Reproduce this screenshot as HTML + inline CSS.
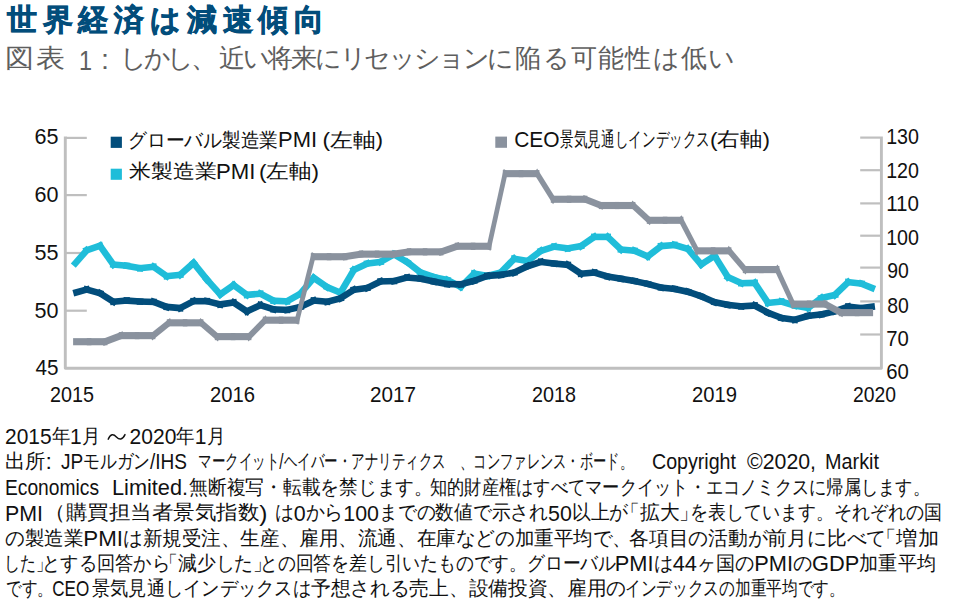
<!DOCTYPE html>
<html><head><meta charset="utf-8"><style>
html,body{margin:0;padding:0;background:#fff;}
svg{display:block;font-family:"Liberation Sans",sans-serif;}
</style></head><body>
<svg width="960" height="614" viewBox="0 0 960 614">
<rect width="960" height="614" fill="#fff"/>
<g stroke="#bfbfbf" fill="none">
<path d="M65.3,136.5 V368.2 H881.4 V136.4" stroke-width="2.9" stroke-linejoin="round"/>
<line x1="66" y1="137.9" x2="86.8" y2="137.9" stroke-width="2.2"/>
<line x1="66" y1="195.1" x2="86.8" y2="195.1" stroke-width="2.2"/>
<line x1="66" y1="253.0" x2="86.8" y2="253.0" stroke-width="2.2"/>
<line x1="66" y1="310.7" x2="86.8" y2="310.7" stroke-width="2.2"/>
<line x1="860.2" y1="137.6" x2="880" y2="137.6" stroke-width="2.2"/>
<line x1="860.2" y1="170.2" x2="880" y2="170.2" stroke-width="2.2"/>
<line x1="860.2" y1="203.4" x2="880" y2="203.4" stroke-width="2.2"/>
<line x1="860.2" y1="235.7" x2="880" y2="235.7" stroke-width="2.2"/>
<line x1="860.2" y1="267.6" x2="880" y2="267.6" stroke-width="2.2"/>
<line x1="860.2" y1="301.4" x2="880" y2="301.4" stroke-width="2.2"/>
<line x1="860.2" y1="334.5" x2="880" y2="334.5" stroke-width="2.2"/>
</g>
<g stroke="#1fbdd9" stroke-width="6.6" stroke-linecap="butt">
<line x1="73.30" y1="265.65" x2="88.83" y2="247.87"/>
<line x1="83.54" y1="251.43" x2="103.14" y2="244.68"/>
<line x1="98.11" y1="243.06" x2="115.29" y2="267.31"/>
<line x1="110.09" y1="264.33" x2="130.03" y2="266.05"/>
<line x1="123.49" y1="265.18" x2="143.35" y2="268.77"/>
<line x1="136.82" y1="268.52" x2="156.74" y2="266.46"/>
<line x1="150.76" y1="264.90" x2="169.52" y2="278.13"/>
<line x1="163.54" y1="276.57" x2="183.46" y2="274.51"/>
<line x1="177.71" y1="277.04" x2="196.01" y2="260.82"/>
<line x1="191.47" y1="260.44" x2="208.97" y2="282.13"/>
<line x1="204.69" y1="277.11" x2="222.47" y2="296.85"/>
<line x1="217.55" y1="296.29" x2="236.33" y2="283.20"/>
<line x1="230.96" y1="283.14" x2="249.64" y2="296.81"/>
<line x1="243.69" y1="295.14" x2="263.63" y2="293.43"/>
<line x1="257.42" y1="292.18" x2="276.62" y2="302.26"/>
<line x1="270.40" y1="300.58" x2="290.36" y2="301.44"/>
<line x1="284.19" y1="302.93" x2="303.29" y2="292.08"/>
<line x1="298.29" y1="296.23" x2="315.91" y2="275.44"/>
<line x1="311.06" y1="276.08" x2="329.86" y2="289.03"/>
<line x1="324.09" y1="285.89" x2="343.55" y2="293.94"/>
<line x1="338.83" y1="295.52" x2="355.53" y2="267.06"/>
<line x1="350.88" y1="271.32" x2="370.20" y2="262.17"/>
<line x1="363.95" y1="264.00" x2="383.85" y2="261.43"/>
<line x1="377.70" y1="263.47" x2="396.82" y2="252.77"/>
<line x1="391.09" y1="252.71" x2="410.15" y2="263.87"/>
<line x1="404.69" y1="260.18" x2="423.27" y2="274.57"/>
<line x1="417.54" y1="271.48" x2="437.14" y2="278.22"/>
<line x1="430.79" y1="276.46" x2="450.61" y2="280.72"/>
<line x1="444.45" y1="278.51" x2="463.67" y2="288.44"/>
<line x1="458.40" y1="289.26" x2="476.44" y2="271.25"/>
<line x1="470.85" y1="273.03" x2="490.71" y2="276.44"/>
<line x1="484.26" y1="276.68" x2="504.02" y2="271.75"/>
<line x1="498.52" y1="274.92" x2="516.48" y2="256.38"/>
<line x1="510.93" y1="258.19" x2="530.79" y2="261.61"/>
<line x1="524.92" y1="263.06" x2="543.52" y2="248.81"/>
<line x1="537.75" y1="251.79" x2="557.41" y2="245.70"/>
<line x1="550.99" y1="246.25" x2="570.89" y2="248.82"/>
<line x1="564.37" y1="248.96" x2="584.23" y2="245.54"/>
<line x1="578.26" y1="247.97" x2="597.06" y2="235.03"/>
<line x1="591.04" y1="236.90" x2="611.00" y2="236.90"/>
<line x1="605.30" y1="234.63" x2="623.46" y2="251.82"/>
<line x1="617.77" y1="249.27" x2="637.71" y2="250.98"/>
<line x1="631.39" y1="249.40" x2="650.81" y2="257.75"/>
<line x1="645.17" y1="258.47" x2="663.75" y2="244.08"/>
<line x1="657.85" y1="246.38" x2="677.79" y2="244.67"/>
<line x1="671.34" y1="244.00" x2="691.02" y2="249.93"/>
<line x1="685.71" y1="246.47" x2="703.37" y2="267.00"/>
<line x1="698.45" y1="266.29" x2="717.35" y2="254.09"/>
<line x1="712.83" y1="253.08" x2="729.69" y2="279.94"/>
<line x1="724.93" y1="275.80" x2="744.31" y2="284.48"/>
<line x1="738.00" y1="283.19" x2="757.96" y2="282.84"/>
<line x1="752.83" y1="280.16" x2="769.85" y2="305.65"/>
<line x1="764.74" y1="303.25" x2="784.66" y2="301.19"/>
<line x1="778.22" y1="300.58" x2="797.90" y2="306.51"/>
<line x1="791.49" y1="305.00" x2="811.35" y2="308.41"/>
<line x1="805.45" y1="309.82" x2="824.11" y2="296.00"/>
<line x1="818.24" y1="298.69" x2="838.04" y2="294.25"/>
<line x1="832.43" y1="297.25" x2="850.57" y2="279.93"/>
<line x1="844.90" y1="281.84" x2="864.82" y2="284.07"/>
<line x1="858.48" y1="282.47" x2="874.90" y2="289.11"/>
</g>
<g stroke="#024d7b" stroke-width="6.6" stroke-linecap="butt">
<line x1="73.30" y1="293.25" x2="89.83" y2="288.55"/>
<line x1="83.49" y1="288.55" x2="103.19" y2="294.15"/>
<line x1="97.24" y1="291.48" x2="116.16" y2="303.53"/>
<line x1="110.09" y1="302.04" x2="130.03" y2="300.33"/>
<line x1="123.45" y1="300.38" x2="143.39" y2="301.76"/>
<line x1="136.80" y1="301.44" x2="156.76" y2="301.96"/>
<line x1="150.37" y1="300.71" x2="169.91" y2="308.10"/>
<line x1="163.53" y1="306.65" x2="183.47" y2="308.37"/>
<line x1="177.25" y1="309.60" x2="196.47" y2="299.67"/>
<line x1="190.24" y1="301.18" x2="210.20" y2="301.18"/>
<line x1="203.69" y1="300.41" x2="223.47" y2="305.18"/>
<line x1="216.99" y1="304.88" x2="236.89" y2="301.97"/>
<line x1="230.87" y1="300.63" x2="249.73" y2="313.13"/>
<line x1="243.99" y1="312.70" x2="263.33" y2="303.70"/>
<line x1="257.20" y1="304.09" x2="276.84" y2="310.35"/>
<line x1="270.40" y1="309.21" x2="290.36" y2="310.07"/>
<line x1="283.84" y1="310.65" x2="303.64" y2="306.21"/>
<line x1="297.44" y1="308.35" x2="316.76" y2="299.20"/>
<line x1="310.49" y1="300.33" x2="330.43" y2="302.04"/>
<line x1="323.94" y1="302.59" x2="343.70" y2="297.48"/>
<line x1="337.72" y1="300.08" x2="356.64" y2="288.03"/>
<line x1="350.59" y1="290.25" x2="370.49" y2="287.51"/>
<line x1="364.26" y1="289.41" x2="383.54" y2="279.95"/>
<line x1="377.28" y1="281.49" x2="397.24" y2="280.97"/>
<line x1="390.75" y1="281.91" x2="410.49" y2="276.64"/>
<line x1="404.01" y1="277.18" x2="423.95" y2="279.07"/>
<line x1="417.43" y1="278.07" x2="437.25" y2="282.33"/>
<line x1="430.77" y1="281.05" x2="450.63" y2="284.64"/>
<line x1="444.08" y1="283.99" x2="464.04" y2="284.34"/>
<line x1="457.54" y1="285.11" x2="477.30" y2="280.00"/>
<line x1="471.01" y1="281.98" x2="490.55" y2="274.74"/>
<line x1="484.17" y1="276.14" x2="504.11" y2="274.60"/>
<line x1="497.57" y1="275.41" x2="517.43" y2="271.99"/>
<line x1="511.20" y1="273.96" x2="530.52" y2="264.81"/>
<line x1="524.40" y1="267.25" x2="544.04" y2="260.83"/>
<line x1="537.63" y1="261.43" x2="557.53" y2="264.00"/>
<line x1="550.97" y1="263.27" x2="570.91" y2="265.16"/>
<line x1="564.87" y1="263.02" x2="583.73" y2="275.52"/>
<line x1="577.69" y1="273.98" x2="597.63" y2="272.27"/>
<line x1="591.18" y1="271.60" x2="610.86" y2="277.53"/>
<line x1="604.44" y1="276.04" x2="624.32" y2="279.29"/>
<line x1="617.81" y1="278.20" x2="637.67" y2="281.62"/>
<line x1="631.19" y1="280.37" x2="651.01" y2="284.63"/>
<line x1="644.59" y1="283.08" x2="664.33" y2="288.35"/>
<line x1="657.86" y1="287.16" x2="677.78" y2="289.22"/>
<line x1="671.27" y1="288.19" x2="691.09" y2="292.45"/>
<line x1="684.74" y1="290.68" x2="704.34" y2="297.43"/>
<line x1="698.19" y1="295.05" x2="717.61" y2="303.41"/>
<line x1="711.35" y1="301.44" x2="731.17" y2="305.53"/>
<line x1="724.66" y1="304.50" x2="744.58" y2="306.73"/>
<line x1="738.01" y1="306.56" x2="757.95" y2="305.36"/>
<line x1="751.76" y1="303.98" x2="770.92" y2="314.37"/>
<line x1="764.93" y1="311.63" x2="784.47" y2="319.03"/>
<line x1="778.11" y1="317.41" x2="798.01" y2="320.15"/>
<line x1="791.57" y1="320.60" x2="811.27" y2="315.00"/>
<line x1="804.82" y1="316.27" x2="824.74" y2="314.04"/>
<line x1="818.25" y1="315.18" x2="838.03" y2="310.42"/>
<line x1="831.70" y1="312.26" x2="851.30" y2="305.52"/>
<line x1="844.90" y1="306.22" x2="864.82" y2="308.45"/>
<line x1="858.27" y1="308.51" x2="874.90" y2="306.36"/>
</g>
<g stroke="#8a929e" stroke-width="4.6" stroke-linecap="butt" transform="scale(1,1.55)">
<line x1="73.10" y1="220.46" x2="91.40" y2="220.46"/>
<line x1="86.80" y1="220.46" x2="107.40" y2="220.46"/>
<line x1="102.87" y1="221.00" x2="123.33" y2="215.99"/>
<line x1="118.80" y1="216.53" x2="139.40" y2="216.53"/>
<line x1="134.80" y1="216.53" x2="155.40" y2="216.53"/>
<line x1="151.06" y1="217.59" x2="171.14" y2="207.21"/>
<line x1="166.80" y1="208.27" x2="187.40" y2="208.27"/>
<line x1="182.80" y1="208.27" x2="203.40" y2="208.27"/>
<line x1="199.09" y1="207.15" x2="219.11" y2="218.29"/>
<line x1="214.80" y1="217.17" x2="235.40" y2="217.17"/>
<line x1="230.80" y1="217.17" x2="251.40" y2="217.17"/>
<line x1="247.18" y1="218.44" x2="267.02" y2="205.30"/>
<line x1="262.80" y1="206.57" x2="283.40" y2="206.57"/>
<line x1="278.80" y1="206.57" x2="299.40" y2="206.57"/>
<line x1="296.26" y1="208.71" x2="313.94" y2="163.47"/>
<line x1="310.80" y1="165.62" x2="331.40" y2="165.62"/>
<line x1="326.80" y1="165.62" x2="347.40" y2="165.62"/>
<line x1="342.81" y1="165.85" x2="363.39" y2="163.73"/>
<line x1="358.80" y1="163.96" x2="379.40" y2="163.96"/>
<line x1="374.80" y1="163.96" x2="395.40" y2="163.96"/>
<line x1="390.81" y1="164.18" x2="411.39" y2="162.27"/>
<line x1="406.80" y1="162.48" x2="427.40" y2="162.48"/>
<line x1="422.80" y1="162.48" x2="443.40" y2="162.48"/>
<line x1="438.86" y1="162.98" x2="459.34" y2="158.37"/>
<line x1="454.80" y1="158.88" x2="475.40" y2="158.88"/>
<line x1="470.80" y1="158.88" x2="491.40" y2="158.88"/>
<line x1="488.36" y1="161.05" x2="505.84" y2="109.85"/>
<line x1="502.80" y1="112.03" x2="523.40" y2="112.03"/>
<line x1="518.80" y1="112.03" x2="539.40" y2="112.03"/>
<line x1="535.50" y1="110.38" x2="554.70" y2="130.22"/>
<line x1="550.80" y1="128.56" x2="571.40" y2="128.56"/>
<line x1="566.80" y1="128.56" x2="587.40" y2="128.56"/>
<line x1="582.87" y1="128.00" x2="603.33" y2="133.15"/>
<line x1="598.80" y1="132.59" x2="619.40" y2="132.59"/>
<line x1="614.80" y1="132.59" x2="635.40" y2="132.59"/>
<line x1="631.12" y1="131.41" x2="651.08" y2="143.31"/>
<line x1="646.80" y1="142.13" x2="667.40" y2="142.13"/>
<line x1="662.80" y1="142.13" x2="683.40" y2="142.13"/>
<line x1="679.65" y1="140.34" x2="698.55" y2="163.63"/>
<line x1="694.80" y1="161.84" x2="715.40" y2="161.84"/>
<line x1="710.80" y1="161.84" x2="731.40" y2="161.84"/>
<line x1="727.26" y1="160.46" x2="746.94" y2="175.31"/>
<line x1="742.80" y1="173.93" x2="763.40" y2="173.93"/>
<line x1="758.80" y1="173.93" x2="779.40" y2="173.93"/>
<line x1="775.76" y1="172.06" x2="794.44" y2="198.05"/>
<line x1="790.80" y1="196.18" x2="811.40" y2="196.18"/>
<line x1="806.80" y1="196.18" x2="827.40" y2="196.18"/>
<line x1="822.93" y1="195.44" x2="843.27" y2="202.45"/>
<line x1="838.80" y1="201.70" x2="859.40" y2="201.70"/>
<line x1="854.80" y1="201.70" x2="873.10" y2="201.70"/>
</g>
<path d="M108.2,439.2 C110.5,433.6 113.5,433.9 116.4,436.9 C119.3,439.9 122.3,440.2 125,434.6" fill="none" stroke="#111" stroke-width="1.45" stroke-linecap="round"/>
<rect x="110.7" y="136.7" width="11.2" height="11.2" fill="#024d7b"/>
<rect x="110.7" y="168.7" width="11.2" height="11.1" fill="#1fbdd9"/>
<rect x="495.3" y="136.6" width="11.7" height="11.2" fill="#8a929e"/>
<text id="t0" x="34.40" y="143.60" font-size="22.30" fill="#111" font-weight="normal" textLength="24.00" lengthAdjust="spacingAndGlyphs">65</text>
<text id="t1" x="34.40" y="201.90" font-size="22.30" fill="#111" font-weight="normal" textLength="24.00" lengthAdjust="spacingAndGlyphs">60</text>
<text id="t2" x="34.40" y="259.60" font-size="22.30" fill="#111" font-weight="normal" textLength="24.00" lengthAdjust="spacingAndGlyphs">55</text>
<text id="t3" x="34.40" y="317.60" font-size="22.30" fill="#111" font-weight="normal" textLength="24.00" lengthAdjust="spacingAndGlyphs">50</text>
<text id="t4" x="35.40" y="374.90" font-size="22.30" fill="#111" font-weight="normal" textLength="23.00" lengthAdjust="spacingAndGlyphs">45</text>
<text id="t5" x="886.20" y="144.10" font-size="22.30" fill="#111" font-weight="normal" textLength="32.80" lengthAdjust="spacingAndGlyphs">130</text>
<text id="t6" x="886.20" y="178.40" font-size="22.30" fill="#111" font-weight="normal" textLength="32.80" lengthAdjust="spacingAndGlyphs">120</text>
<text id="t7" x="886.20" y="210.80" font-size="22.30" fill="#111" font-weight="normal" textLength="32.80" lengthAdjust="spacingAndGlyphs">110</text>
<text id="t8" x="886.20" y="244.70" font-size="22.30" fill="#111" font-weight="normal" textLength="32.80" lengthAdjust="spacingAndGlyphs">100</text>
<text id="t9" x="887.20" y="278.30" font-size="22.30" fill="#111" font-weight="normal" textLength="21.60" lengthAdjust="spacingAndGlyphs">90</text>
<text id="t10" x="887.20" y="313.20" font-size="22.30" fill="#111" font-weight="normal" textLength="21.60" lengthAdjust="spacingAndGlyphs">80</text>
<text id="t11" x="886.20" y="345.50" font-size="22.30" fill="#111" font-weight="normal" textLength="22.60" lengthAdjust="spacingAndGlyphs">70</text>
<text id="t12" x="886.20" y="378.60" font-size="22.30" fill="#111" font-weight="normal" textLength="22.60" lengthAdjust="spacingAndGlyphs">60</text>
<text id="t13" x="50.00" y="402.30" font-size="22.80" fill="#111" font-weight="normal" textLength="44.00" lengthAdjust="spacingAndGlyphs">2015</text>
<text id="t14" x="210.00" y="402.30" font-size="22.80" fill="#111" font-weight="normal" textLength="45.00" lengthAdjust="spacingAndGlyphs">2016</text>
<text id="t15" x="370.00" y="402.30" font-size="22.80" fill="#111" font-weight="normal" textLength="46.00" lengthAdjust="spacingAndGlyphs">2017</text>
<text id="t16" x="532.00" y="402.30" font-size="22.80" fill="#111" font-weight="normal" textLength="44.00" lengthAdjust="spacingAndGlyphs">2018</text>
<text id="t17" x="692.00" y="402.30" font-size="22.80" fill="#111" font-weight="normal" textLength="45.00" lengthAdjust="spacingAndGlyphs">2019</text>
<text id="t18" x="853.00" y="402.30" font-size="22.80" fill="#111" font-weight="normal" textLength="43.00" lengthAdjust="spacingAndGlyphs">2020</text>
<text id="t19" x="128.20" y="146.50" font-size="20.00" fill="#111" font-weight="normal" textLength="150.00" lengthAdjust="spacingAndGlyphs">グローバル製造業</text>
<text id="t20" x="278.00" y="147.30" font-size="21.60" fill="#111" font-weight="normal" textLength="39.00" lengthAdjust="spacingAndGlyphs">PMI</text>
<text id="t21" x="322.40" y="147.30" font-size="20.00" fill="#111" font-weight="normal" textLength="60.60" lengthAdjust="spacingAndGlyphs"><tspan>(</tspan><tspan dy="-0.80">左軸</tspan><tspan dy="0.80">)</tspan></text>
<text id="t22" x="129.20" y="177.50" font-size="20.00" fill="#111" font-weight="normal" textLength="88.00" lengthAdjust="spacingAndGlyphs">米製造業</text>
<text id="t23" x="216.00" y="178.75" font-size="21.60" fill="#111" font-weight="normal" textLength="39.40" lengthAdjust="spacingAndGlyphs">PMI</text>
<text id="t24" x="259.00" y="178.75" font-size="20.00" fill="#111" font-weight="normal" textLength="60.00" lengthAdjust="spacingAndGlyphs"><tspan>(</tspan><tspan dy="-1.25">左軸</tspan><tspan dy="1.25">)</tspan></text>
<text id="t25" x="514.20" y="146.70" font-size="21.60" fill="#111" font-weight="normal" textLength="45.40" lengthAdjust="spacingAndGlyphs">CEO</text>
<text id="t26" x="560.20" y="146.40" font-size="20.00" fill="#111" font-weight="normal" textLength="149.80" lengthAdjust="spacingAndGlyphs">景気見通しインデックス</text>
<text id="t27" x="710.00" y="146.70" font-size="20.00" fill="#111" font-weight="normal" textLength="60.00" lengthAdjust="spacingAndGlyphs"><tspan>(</tspan><tspan dy="-0.30">右軸</tspan><tspan dy="0.30">)</tspan></text>
<text id="t28" x="6.80" y="30.20" font-size="29.50" fill="#024d7b" stroke="#024d7b" stroke-width="0.7" font-weight="bold" textLength="317.40" lengthAdjust="spacing">世界経済は減速傾向</text>
<text id="t29" x="5.00" y="67.20" font-size="26.00" fill="#5e5e5e" font-weight="normal" textLength="29.00" lengthAdjust="spacingAndGlyphs">図</text>
<text id="t30" x="36.00" y="67.20" font-size="26.00" fill="#5e5e5e" font-weight="normal" textLength="29.00" lengthAdjust="spacingAndGlyphs">表</text>
<text id="t31" x="79.00" y="69.50" font-size="27.50" fill="#5e5e5e" font-weight="normal" textLength="13.00" lengthAdjust="spacingAndGlyphs">1</text>
<text id="t32" x="101.00" y="68.50" font-size="27.50" fill="#5e5e5e" font-weight="normal" textLength="8.00" lengthAdjust="spacingAndGlyphs">:</text>
<text id="t33" x="120.00" y="67.20" font-size="26.00" fill="#5e5e5e" font-weight="normal" textLength="97.00" lengthAdjust="spacing">しかし、</text>
<text id="t34" x="219.00" y="67.20" font-size="26.00" fill="#5e5e5e" font-weight="normal" textLength="271.00" lengthAdjust="spacing">近い将来にリセッション</text>
<text id="t35" x="487.00" y="67.20" font-size="26.00" fill="#5e5e5e" font-weight="normal" textLength="248.00" lengthAdjust="spacing">に陥る可能性は低い</text>
<text id="t36" x="5.00" y="444.20" font-size="22.80" fill="#111" font-weight="normal" textLength="95.00" lengthAdjust="spacingAndGlyphs"><tspan>2015</tspan><tspan dy="-1.20" font-size="20.00">年</tspan><tspan dy="1.20">1</tspan><tspan dy="-1.20" font-size="20.00">月</tspan></text>
<text id="t37" x="129.60" y="444.20" font-size="22.80" fill="#111" font-weight="normal" textLength="95.40" lengthAdjust="spacingAndGlyphs"><tspan>2020</tspan><tspan dy="-1.20" font-size="20.00">年</tspan><tspan dy="1.20">1</tspan><tspan dy="-1.20" font-size="20.00">月</tspan></text>
<text id="t38" x="5.00" y="468.00" font-size="20.00" fill="#111" font-weight="normal" textLength="47.00" lengthAdjust="spacingAndGlyphs"><tspan>出所</tspan><tspan dy="1.20" font-size="22.80">:</tspan></text>
<text id="t39" x="61.00" y="469.20" font-size="22.80" fill="#111" font-weight="normal" textLength="126.00" lengthAdjust="spacingAndGlyphs"><tspan>JP</tspan><tspan dy="-1.20" font-size="20.00">モルガン</tspan><tspan dy="1.20">/IHS</tspan></text>
<text id="t40" x="198.00" y="468.00" font-size="20.00" fill="#111" font-weight="normal" textLength="248.00" lengthAdjust="spacingAndGlyphs"><tspan>マークイット</tspan><tspan dy="1.20" font-size="22.80">/</tspan><tspan dy="-1.20">ヘイバー・アナリティクス</tspan></text>
<text id="t41" x="460.00" y="468.00" font-size="20.00" fill="#111" font-weight="normal" textLength="173.00" lengthAdjust="spacingAndGlyphs">、コンファレンス・ボード。</text>
<text id="t42" x="652.00" y="469.20" font-size="22.80" fill="#111" font-weight="normal" textLength="84.00" lengthAdjust="spacingAndGlyphs">Copyright</text>
<text id="t43" x="747.00" y="469.20" font-size="22.80" fill="#111" font-weight="normal" textLength="69.00" lengthAdjust="spacingAndGlyphs">©2020,</text>
<text id="t44" x="825.00" y="469.20" font-size="22.80" fill="#111" font-weight="normal" textLength="54.00" lengthAdjust="spacingAndGlyphs">Markit</text>
<text id="t45" x="5.00" y="495.30" font-size="22.80" fill="#111" font-weight="normal" textLength="94.00" lengthAdjust="spacingAndGlyphs">Economics</text>
<text id="t46" x="112.00" y="495.30" font-size="22.80" fill="#111" font-weight="normal" textLength="76.00" lengthAdjust="spacingAndGlyphs">Limited.</text>
<text id="t47" x="189.00" y="494.10" font-size="20.00" fill="#111" font-weight="normal" textLength="244.00" lengthAdjust="spacingAndGlyphs">無断複写・転載を禁じます。</text>
<text id="t48" x="430.00" y="494.10" font-size="20.00" fill="#111" font-weight="normal" textLength="499.80" lengthAdjust="spacingAndGlyphs">知的財産権はすべてマークイット・エコノミクスに帰属します。</text>
<text id="t49" x="5.00" y="520.50" font-size="22.80" fill="#111" font-weight="normal" textLength="38.00" lengthAdjust="spacingAndGlyphs">PMI</text>
<text id="t50" x="44.00" y="519.30" font-size="20.00" fill="#111" font-weight="normal" textLength="223.40" lengthAdjust="spacingAndGlyphs"><tspan>（購買担当者景気指数</tspan><tspan dy="1.20" font-size="22.80">)</tspan></text>
<text id="t51" x="275.00" y="519.30" font-size="20.00" fill="#111" font-weight="normal" textLength="353.20" lengthAdjust="spacingAndGlyphs"><tspan>は</tspan><tspan dy="1.20" font-size="22.80">0</tspan><tspan dy="-1.20">から</tspan><tspan dy="1.20" font-size="22.80">100</tspan><tspan dy="-1.20">までの数値で示され</tspan><tspan dy="1.20" font-size="22.80">50</tspan><tspan dy="-1.20">以上が</tspan></text>
<text id="t52" x="620.00" y="519.30" font-size="20.00" fill="#111" font-weight="normal" textLength="79.00" lengthAdjust="spacingAndGlyphs">「拡大」</text>
<text id="t53" x="690.00" y="519.30" font-size="20.00" fill="#111" font-weight="normal" textLength="251.60" lengthAdjust="spacingAndGlyphs">を表しています。それぞれの国</text>
<text id="t54" x="5.00" y="545.10" font-size="20.00" fill="#111" font-weight="normal" textLength="627.00" lengthAdjust="spacingAndGlyphs"><tspan>の製造業</tspan><tspan dy="1.20" font-size="22.80">PMI</tspan><tspan dy="-1.20">は新規受注、生産、雇用、流通、在庫などの加重平均で、</tspan></text>
<text id="t55" x="629.00" y="545.10" font-size="20.00" fill="#111" font-weight="normal" textLength="257.20" lengthAdjust="spacingAndGlyphs">各項目の活動が前月に比べて</text>
<text id="t56" x="875.20" y="545.10" font-size="20.00" fill="#111" font-weight="normal" textLength="63.80" lengthAdjust="spacingAndGlyphs">「増加</text>
<text id="t57" x="4.00" y="570.10" font-size="20.00" fill="#111" font-weight="normal" textLength="47.80" lengthAdjust="spacingAndGlyphs">した」</text>
<text id="t58" x="42.00" y="570.10" font-size="20.00" fill="#111" font-weight="normal" textLength="127.80" lengthAdjust="spacingAndGlyphs">とする回答から</text>
<text id="t59" x="159.00" y="570.10" font-size="20.00" fill="#111" font-weight="normal" textLength="113.00" lengthAdjust="spacingAndGlyphs">「減少した」</text>
<text id="t60" x="260.00" y="570.10" font-size="20.00" fill="#111" font-weight="normal" textLength="356.00" lengthAdjust="spacingAndGlyphs">との回答を差し引いたものです。グローバル</text>
<text id="t61" x="614.80" y="571.30" font-size="22.80" fill="#111" font-weight="normal" textLength="321.00" lengthAdjust="spacingAndGlyphs"><tspan>PMI</tspan><tspan dy="-1.20" font-size="20.00">は</tspan><tspan dy="1.20">44</tspan><tspan dy="-1.20" font-size="20.00">ヶ国の</tspan><tspan dy="1.20">PMI</tspan><tspan dy="-1.20" font-size="20.00">の</tspan><tspan dy="1.20">GDP</tspan><tspan dy="-1.20" font-size="20.00">加重平均</tspan></text>
<text id="t62" x="6.00" y="594.80" font-size="20.00" fill="#111" font-weight="normal" textLength="46.80" lengthAdjust="spacingAndGlyphs">です。</text>
<text id="t63" x="52.20" y="596.00" font-size="22.80" fill="#111" font-weight="normal" textLength="37.00" lengthAdjust="spacingAndGlyphs">CEO</text>
<text id="t64" x="91.80" y="594.80" font-size="20.00" fill="#111" font-weight="normal" textLength="219.20" lengthAdjust="spacingAndGlyphs">景気見通しインデックスは</text>
<text id="t65" x="311.00" y="594.80" font-size="20.00" fill="#111" font-weight="normal" textLength="315.00" lengthAdjust="spacingAndGlyphs">予想される売上、設備投資、雇用の</text>
<text id="t66" x="624.80" y="594.80" font-size="20.00" fill="#111" font-weight="normal" textLength="220.00" lengthAdjust="spacingAndGlyphs">インデックスの加重平均です。</text>
</svg></body></html>
